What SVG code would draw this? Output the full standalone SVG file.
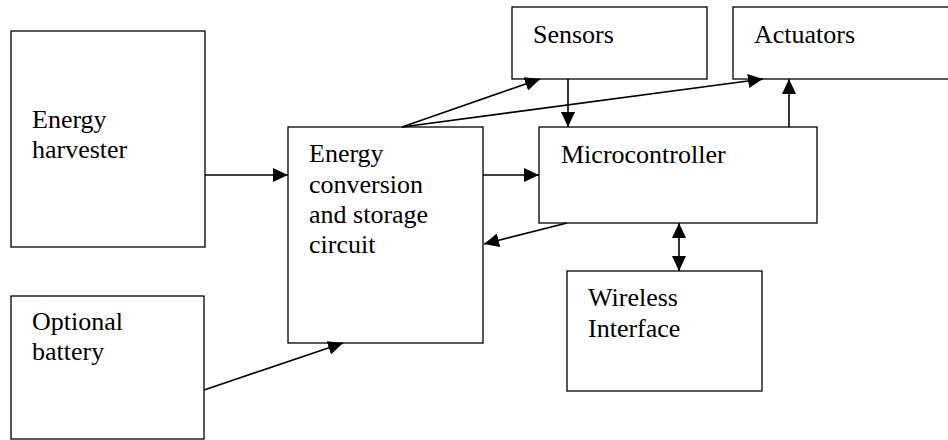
<svg xmlns="http://www.w3.org/2000/svg" width="948" height="440" viewBox="0 0 948 440">
<style>
.box{fill:#fff;stroke:#000;stroke-width:1.3}
.t{font-family:"Liberation Serif","Times New Roman","DejaVu Serif",serif;font-size:26px;fill:#000}
.c{stroke:#000;stroke-width:1.6;fill:none}
</style>
<defs>
<marker id="ah" viewBox="0 0 15 14" refX="15" refY="7" markerWidth="15" markerHeight="14" markerUnits="userSpaceOnUse" orient="auto-start-reverse">
<path d="M0,0 L15,7 L0,14 Z" fill="#000"/>
</marker>
</defs>
<rect width="948" height="440" fill="#fff"/>
<g id="harvester"><rect class="box" x="11" y="31" width="194" height="216"/><text class="t" x="32" y="128">Energy</text><text class="t" x="32" y="158">harvester</text></g>
<g id="battery"><rect class="box" x="11" y="296" width="193" height="143"/><text class="t" x="32" y="330">Optional</text><text class="t" x="32" y="360">battery</text></g>
<g id="conversion"><rect class="box" x="288" y="127" width="195" height="216"/><text class="t" x="309" y="162">Energy</text><text class="t" x="309" y="193">conversion</text><text class="t" x="309" y="223">and storage</text><text class="t" x="309" y="253">circuit</text></g>
<g id="sensors"><rect class="box" x="512" y="7" width="195" height="72"/><text class="t" x="533" y="43">Sensors</text></g>
<g id="actuators"><rect class="box" x="733" y="7" width="230" height="72"/><text class="t" x="754" y="43">Actuators</text></g>
<g id="microcontroller"><rect class="box" x="539" y="127" width="278" height="96"/><text class="t" x="561" y="163">Microcontroller</text></g>
<g id="wireless"><rect class="box" x="567" y="271" width="195" height="120"/><text class="t" x="588" y="306">Wireless</text><text class="t" x="588" y="337">Interface</text></g>
<g id="connectors">
<line class="c" x1="205" y1="175" x2="288" y2="175" marker-end="url(#ah)"/>
<line class="c" x1="483" y1="175" x2="539" y2="175" marker-end="url(#ah)"/>
<line class="c" x1="204" y1="390" x2="343" y2="343" marker-end="url(#ah)"/>
<line class="c" x1="402" y1="127" x2="540" y2="79" marker-end="url(#ah)"/>
<line class="c" x1="402" y1="127" x2="763" y2="79" marker-end="url(#ah)"/>
<line class="c" x1="568" y1="79" x2="568" y2="127" marker-end="url(#ah)"/>
<line class="c" x1="789" y1="127" x2="789" y2="79" marker-end="url(#ah)"/>
<line class="c" x1="567" y1="223" x2="484" y2="244" marker-end="url(#ah)"/>
<line class="c" x1="679" y1="223" x2="679" y2="271" marker-start="url(#ah)" marker-end="url(#ah)"/>
</g>
</svg>
